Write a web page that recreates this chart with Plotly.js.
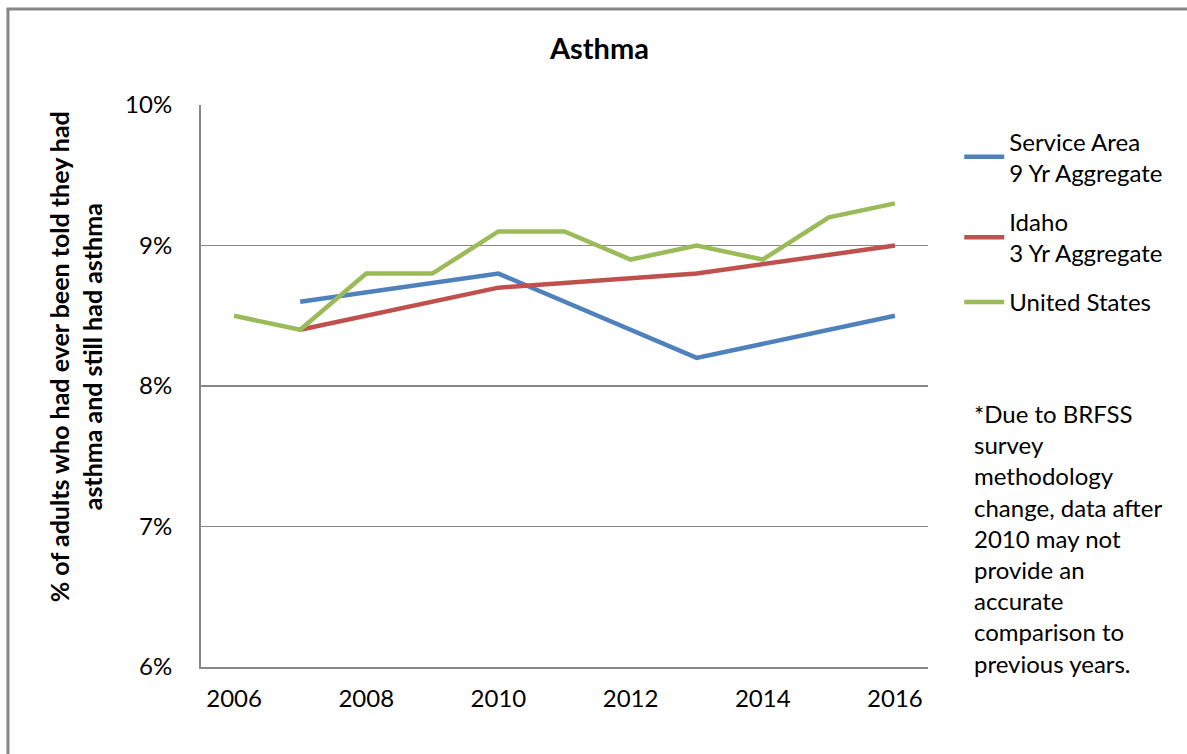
<!DOCTYPE html>
<html>
<head>
<meta charset="utf-8">
<script src="https://cdn.plot.ly/plotly-3.0.1.min.js"></script>
<style>
  html, body { margin: 0; padding: 0; background: #fff; }
  #chart { width: 1187px; height: 754px; }
</style>
</head>
<body>
<div id="chart"></div>
<script>
const years = ["2006","2007","2008","2009","2010","2011","2012","2013","2014","2015","2016"];
const serviceArea = [null, 8.6, null, null, 8.8, null, null, 8.2, null, null, 8.5];
const idaho = [null, 8.4, null, null, 8.7, null, null, 8.8, null, null, 9.0];
const unitedStates = [8.5, 8.4, 8.8, 8.8, 9.1, 9.1, 8.9, 9.0, 8.9, 9.2, 9.3];
const xTickVals = ["2006","2008","2010","2012","2014","2016"];
const yTickVals = [6, 7, 8, 9, 10];
const yTickText = ["6%", "7%", "8%", "9%", "10%"];

const FONT = "Lato, 'Open Sans', sans-serif";

const traces = [
  { x: years, y: serviceArea, name: "Service Area<br>9 Yr Aggregate", type: "scatter", mode: "lines",
    legendgroup: "a", connectgaps: true, line: { color: "#4F81BD", width: 4.5 } },
  { x: years, y: idaho, name: "Idaho<br>3 Yr Aggregate", type: "scatter", mode: "lines",
    legendgroup: "b", connectgaps: true, line: { color: "#C0504D", width: 4.5 } },
  { x: years, y: unitedStates, name: "United States", type: "scatter", mode: "lines",
    legendgroup: "c", line: { color: "#9BBB59", width: 4.5 } }
];

const layout = {
  width: 1187, height: 754,
  margin: { l: 201, r: 259, t: 105, b: 87 },
  paper_bgcolor: "#fff", plot_bgcolor: "#fff",
  font: { family: FONT, size: 24, color: "#000" },
  title: { text: "<b>Asthma</b>", font: { family: FONT, size: 29, color: "#000" },
           x: 0.505, xref: "container", y: 0.935, yref: "container", yanchor: "middle" },
  xaxis: {
    type: "category", categoryorder: "array", categoryarray: years,
    range: [-0.5, 10.5], tickvals: xTickVals, ticktext: xTickVals,
    showgrid: false, zeroline: false, showline: true, linecolor: "#888", linewidth: 2,
    ticks: "", tickfont: { family: FONT, size: 24, color: "#000" }, ticklabelstandoff: 9
  },
  yaxis: {
    range: [6, 10], tickvals: yTickVals, ticktext: yTickText,
    showgrid: true, gridcolor: "#888", gridwidth: 1.5, zeroline: false,
    showline: true, linecolor: "#888", linewidth: 2, ticks: "",
    tickfont: { family: FONT, size: 24, color: "#000" }, ticklabelstandoff: 22
  },
  showlegend: true,
  legend: {
    x: 1.043, xanchor: "left", y: 0.975, yanchor: "top",
    traceorder: "grouped", tracegroupgap: 15,
    font: { family: FONT, size: 24, color: "#000" },
    bgcolor: "rgba(0,0,0,0)", borderwidth: 0, itemwidth: 40
  },
  annotations: [
    { text: "<b>% of adults who had ever been told they had<br>asthma and still had asthma</b>",
      xref: "paper", yref: "paper", x: -0.173, y: 0.5516, textangle: -90,
      showarrow: false, xanchor: "center", yanchor: "middle", align: "center",
      font: { family: FONT, size: 25, color: "#000" } },
    { text: "*Due to BRFSS<br>survey<br>methodology<br>change, data after<br>2010 may not<br>provide an<br>accurate<br>comparison to<br>previous years.",
      xref: "paper", yref: "paper", x: 1.0605, y: 0.48, xanchor: "left", yanchor: "top",
      align: "left", showarrow: false, font: { family: FONT, size: 24, color: "#000" } }
  ],
  shapes: [
    { type: "line", xref: "paper", yref: "paper", x0: -0.2655, x1: -0.2655, y0: 1.1708, y1: -0.3,
      line: { color: "#888", width: 3 } },
    { type: "line", xref: "paper", yref: "paper", x0: -0.2675, x1: 1.5, y0: 1.1708, y1: 1.1708,
      line: { color: "#888", width: 3 } }
  ]
};

Plotly.newPlot("chart", traces, layout, { displayModeBar: false, staticPlot: true });
</script>
</body>
</html>
